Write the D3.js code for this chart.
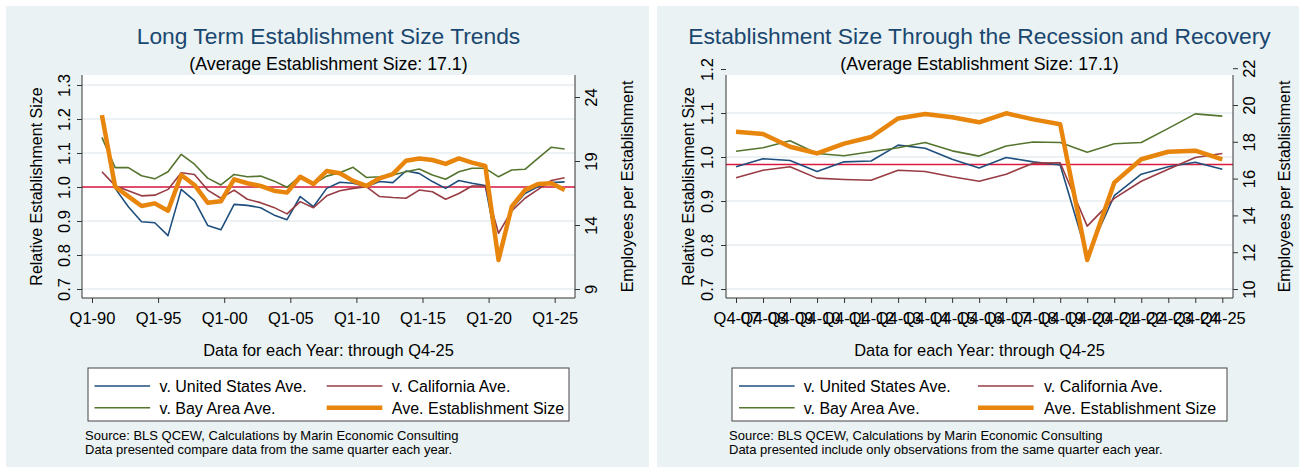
<!DOCTYPE html>
<html>
<head>
<meta charset="utf-8">
<script src="https://d3js.org/d3.v7.min.js"></script>
<style>
body { margin: 0; background: #fff; }
svg text { font-family: "Liberation Sans", Arial, Helvetica, sans-serif; fill: #000; }
</style>
</head>
<body>
<svg id="chart" width="1299" height="472"></svg>
<script>
// ---- long term panel: one observation per year (Q4), 1990-2025
var longYears = [1990,1991,1992,1993,1994,1995,1996,1997,1998,1999,
                 2000,2001,2002,2003,2004,2005,2006,2007,2008,2009,
                 2010,2011,2012,2013,2014,2015,2016,2017,2018,2019,
                 2020,2021,2022,2023,2024,2025];
var longUS  = [null,0.996,0.942,0.898,0.895,0.857,0.993,0.960,0.887,0.874,
               0.949,0.946,0.939,0.918,0.904,0.972,0.942,0.996,1.014,1.011,
               1.001,1.016,1.013,1.047,1.040,1.016,0.996,1.019,1.011,1.004,
               0.800,0.937,0.981,1.001,1.013,1.015];
var longCA  = [1.045,1.004,0.989,0.974,0.976,0.993,1.042,1.037,0.991,0.967,
               0.991,0.964,0.954,0.940,0.921,0.957,0.939,0.974,0.989,0.996,
               1.001,0.972,0.969,0.967,0.991,0.986,0.964,0.981,1.003,1.003,
               0.864,0.930,0.967,0.993,1.019,1.027];
var longBay = [1.146,1.057,1.057,1.033,1.024,1.045,1.096,1.067,1.026,1.006,
               1.037,1.030,1.032,1.018,0.999,1.032,1.009,1.032,1.042,1.058,
               1.028,1.030,1.035,1.045,1.053,1.035,1.023,1.045,1.055,1.055,
               1.030,1.050,1.052,1.085,1.117,1.112];
var longAve = [22.59,16.99,16.24,15.48,15.69,15.12,17.91,17.13,15.74,15.85,
               17.57,17.26,17.05,16.68,16.53,17.77,17.20,18.22,18.04,17.45,
               17.05,17.65,17.98,19.02,19.20,19.08,18.77,19.20,18.87,18.61,
               11.27,15.43,16.73,17.20,17.26,16.73];
var longTickYears  = [1990,1995,2000,2005,2010,2015,2020,2025];
var longTickLabels = ["Q1-90","Q1-95","Q1-00","Q1-05","Q1-10","Q1-15","Q1-20","Q1-25"];
var longLeftTicks  = [0.7,0.8,0.9,1.0,1.1,1.2,1.3];
var longRightTicks = [9,14,19,24];

// ---- recession panel: Q4 of each year, 2007-2025
var recYears = [2007,2008,2009,2010,2011,2012,2013,2014,2015,2016,
                2017,2018,2019,2020,2021,2022,2023,2024,2025];
var recUS  = [0.978,0.996,0.992,0.967,0.989,0.991,1.027,1.020,0.995,0.975,
              0.999,0.989,0.982,0.775,0.912,0.961,0.978,0.988,0.972];
var recCA  = [0.953,0.970,0.978,0.952,0.949,0.947,0.970,0.967,0.955,0.945,
              0.961,0.986,0.987,0.843,0.906,0.945,0.972,0.999,1.008];
var recBay = [1.013,1.021,1.037,1.008,1.003,1.012,1.021,1.033,1.014,1.002,
              1.025,1.034,1.033,1.011,1.030,1.033,1.065,1.098,1.093];
var recAve = [18.55,18.42,17.73,17.37,17.90,18.26,19.27,19.51,19.33,19.06,
              19.55,19.22,18.95,11.58,15.78,17.05,17.46,17.52,17.05];
var recTickLabels = ["Q4-07","Q4-08","Q4-09","Q4-10","Q4-11","Q4-12","Q4-13",
                     "Q4-14","Q4-15","Q4-16","Q4-17","Q4-18","Q4-19","Q4-20",
                     "Q4-21","Q4-22","Q4-23","Q4-24","Q4-25"];
var recLeftTicks  = [0.7,0.8,0.9,1.0,1.1,1.2];
var recRightTicks = [10,12,14,16,18,20,22];

var seriesNames  = ["v. United States Ave.", "v. California Ave.", "v. Bay Area Ave.", "Ave. Establishment Size"];
var seriesColors = ["#1f4f7d", "#973c43", "#55752f", "#e8850c"];
var seriesWidths = [1.6, 1.6, 1.6, 4.5];

var svg = d3.select("#chart");

function drawPanel(p) {
  var g = svg.append("g");

  g.append("rect").attr("x", p.bx0).attr("y", 6).attr("width", p.bx1 - p.bx0).attr("height", 461)
    .attr("fill", "#eaf2f3");
  g.append("rect").attr("x", p.px0).attr("y", 75).attr("width", p.px1 - p.px0).attr("height", 223)
    .attr("fill", "#fff");

  var x = d3.scaleLinear().domain(p.xDomain).range(p.xRange);
  var yL = d3.scaleLinear().domain(p.lDomain).range(p.lRange);
  var yR = d3.scaleLinear().domain(p.rDomain).range(p.rRange);

  // grid
  g.selectAll(".grid").data(p.leftTicks.filter(function(t) { return yL(t) >= 75; }))
    .enter().append("line")
    .attr("x1", p.px0).attr("x2", p.px1)
    .attr("y1", function(d) { return yL(d); }).attr("y2", function(d) { return yL(d); })
    .attr("stroke", "#e6eef1").attr("stroke-width", 1.5);

  // reference line
  g.append("line").attr("x1", p.px0).attr("x2", p.px1)
    .attr("y1", yL(p.refValue)).attr("y2", yL(p.refValue))
    .attr("stroke", "#d9193f").attr("stroke-width", 1.5);

  // series
  var sets = [p.us, p.ca, p.bay];
  sets.forEach(function(vals, k) {
    var line = d3.line()
      .defined(function(d) { return d != null; })
      .x(function(d, i) { return x(p.years[i] + p.xOff); })
      .y(function(d) { return yL(d); });
    g.append("path").attr("d", line(vals)).attr("fill", "none")
      .attr("stroke", seriesColors[k]).attr("stroke-width", seriesWidths[k])
      .attr("stroke-linejoin", "round");
  });
  var aveLine = d3.line()
    .x(function(d, i) { return x(p.years[i] + p.xOff); })
    .y(function(d) { return yR(d); });
  g.append("path").attr("d", aveLine(p.ave)).attr("fill", "none")
    .attr("stroke", seriesColors[3]).attr("stroke-width", seriesWidths[3])
    .attr("stroke-linejoin", "round");

  // axes
  var axisCol = "#333";
  var leftAx = g.append("g").attr("transform", "translate(" + p.px0 + ",0)")
    .call(d3.axisLeft(yL).tickValues(p.leftTicks).tickSize(5).tickFormat(d3.format(".1f")));
  var rightAx = g.append("g").attr("transform", "translate(" + p.px1 + ",0)")
    .call(d3.axisRight(yR).tickValues(p.rightTicks).tickSize(5).tickFormat(d3.format("d")));
  var bottomAx = g.append("g").attr("transform", "translate(0,298)")
    .call(d3.axisBottom(x).tickValues(p.tickValues).tickSize(5)
      .tickFormat(function(d, i) { return p.tickLabels[i]; }));

  [leftAx, rightAx, bottomAx].forEach(function(a) {
    a.select(".domain").remove();
    a.selectAll(".tick line").attr("stroke", axisCol);
    a.selectAll(".tick text").style("font-size", "16.5px").attr("fill", "#000");
  });
  leftAx.selectAll(".tick text").attr("x", 0).attr("y", 0).attr("dy", null)
    .attr("text-anchor", "middle").attr("transform", "translate(" + (-p.lLabOff) + ",0) rotate(-90)");
  rightAx.selectAll(".tick text").attr("x", 0).attr("y", 0).attr("dy", null)
    .attr("text-anchor", "middle").attr("transform", "translate(22,0) rotate(-90)");
  bottomAx.selectAll(".tick text").attr("y", 0).attr("dy", null)
    .attr("transform", "translate(0,25.5)");

  g.append("line").attr("x1", p.px0).attr("x2", p.px0).attr("y1", 75).attr("y2", 298).attr("stroke", axisCol);
  g.append("line").attr("x1", p.px1).attr("x2", p.px1).attr("y1", 75).attr("y2", 298).attr("stroke", axisCol);
  g.append("line").attr("x1", p.px0).attr("x2", p.px1).attr("y1", 298).attr("y2", 298).attr("stroke", axisCol);

  // axis titles
  var cy = (75 + 298) / 2;
  g.append("text").attr("transform", "translate(" + p.lTitleX + "," + cy + ") rotate(-90)")
    .attr("text-anchor", "middle").style("font-size", "16px").text("Relative Establishment Size");
  g.append("text").attr("transform", "translate(" + p.rTitleX + "," + cy + ") rotate(-90)")
    .attr("text-anchor", "middle").style("font-size", "16px").text("Employees per Establishment");
  var cx = (p.px0 + p.px1) / 2;
  g.append("text").attr("x", cx).attr("y", 356).attr("text-anchor", "middle")
    .style("font-size", "16.4px").text("Data for each Year: through Q4-25");

  // titles
  g.append("text").attr("x", cx).attr("y", 44).attr("text-anchor", "middle")
    .style("font-size", "22.8px").style("fill", "#1a476f").text(p.title);
  g.append("text").attr("x", cx).attr("y", 69.5).attr("text-anchor", "middle")
    .style("font-size", "17.8px").text("(Average Establishment Size: 17.1)");

  // legend
  g.append("rect").attr("x", p.lgx0).attr("y", 368).attr("width", p.lgx1 - p.lgx0).attr("height", 53)
    .attr("fill", "#fff").attr("stroke", "#444").attr("stroke-width", 1);
  seriesNames.forEach(function(name, k) {
    var col = k % 2, row = Math.floor(k / 2);
    var ly = 386 + row * 21.7;
    g.append("line").attr("x1", p.lgLine[col]).attr("x2", p.lgLine[col] + 55.6)
      .attr("y1", ly).attr("y2", ly)
      .attr("stroke", seriesColors[k]).attr("stroke-width", seriesWidths[k]);
    g.append("text").attr("x", p.lgText[col]).attr("y", ly + 5.8)
      .style("font-size", "16px").text(name);
  });

  // notes
  p.notes.forEach(function(t, i) {
    g.append("text").attr("x", p.noteX).attr("y", 440 + i * 14)
      .style("font-size", "13px").text(t);
  });
}

drawPanel({
  bx0: 6, bx1: 649, px0: 82, px1: 575,
  xDomain: [1990, 2025], xRange: [92, 554.7], xOff: 0.75,
  lDomain: [0.7, 1.3], lRange: [289, 85],
  rDomain: [9, 24], rRange: [289, 97],
  leftTicks: longLeftTicks, rightTicks: longRightTicks,
  tickValues: longTickYears, tickLabels: longTickLabels,
  years: longYears, us: longUS, ca: longCA, bay: longBay, ave: longAve,
  refValue: 1.0, lLabOff: 12, lTitleX: 41.5, rTitleX: 632.5,
  title: "Long Term Establishment Size Trends",
  lgx0: 88, lgx1: 569, lgLine: [94.5, 326.7], lgText: [159.6, 391.8],
  noteX: 85,
  notes: ["Source: BLS QCEW, Calculations by Marin Economic Consulting",
          "Data presented compare data from the same quarter each year."]
});

drawPanel({
  bx0: 657, bx1: 1299, px0: 726, px1: 1233,
  xDomain: [2007, 2025], xRange: [736, 1222.3], xOff: 0,
  lDomain: [0.7, 1.2], lRange: [289, 69],
  rDomain: [10, 22], rRange: [289, 68.2],
  leftTicks: recLeftTicks, rightTicks: recRightTicks,
  tickValues: recYears, tickLabels: recTickLabels,
  years: recYears, us: recUS, ca: recCA, bay: recBay, ave: recAve,
  refValue: 0.983, lLabOff: 13.5, lTitleX: 694, rTitleX: 1290,
  title: "Establishment Size Through the Recession and Recovery",
  lgx0: 732, lgx1: 1227, lgLine: [739, 978], lgText: [803.7, 1044],
  noteX: 729,
  notes: ["Source: BLS QCEW, Calculations by Marin Economic Consulting",
          "Data presented include only observations from the same quarter each year."]
});
</script>
</body>
</html>
